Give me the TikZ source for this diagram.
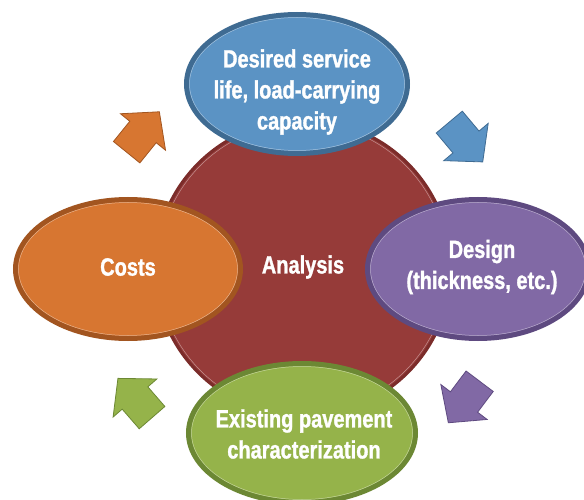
\documentclass[tikz,border=0pt]{standalone}
\usepackage{fontspec}
\setsansfont{Liberation Sans}[FakeStretch=0.8, BoldFeatures={FakeBold=1.2}]
\definecolor{pvred}{HTML}{963B39}
\definecolor{pvreddk}{HTML}{7B2C2A}
\definecolor{pvblue}{HTML}{5B93C4}
\definecolor{pvbluedk}{HTML}{3F6B92}
\definecolor{pvpurple}{HTML}{8169A5}
\definecolor{pvpurpledk}{HTML}{5E4A80}
\definecolor{pvorange}{HTML}{D77631}
\definecolor{pvorangedk}{HTML}{A25520}
\definecolor{pvgreen}{HTML}{95B34A}
\definecolor{pvgreendk}{HTML}{6C8834}
\tikzset{
  pv text/.style={font=\sffamily\bfseries\fontsize{25}{31}\selectfont, text=white, align=center},
  pv ring/.style={line width=5pt},
  pv gloss/.style={draw=white, draw opacity=.45, line width=.5pt},
  pv arrow/.style={line width=.8pt, line join=miter}
}

\begin{document}
\begin{tikzpicture}[x=1pt, y=1pt]
  \useasboundingbox (0,0) rectangle (584,499);
  \draw[fill=pvred, draw=pvreddk, line width=3pt] (303,231) circle (148);
  \draw[pv gloss] (303,231) circle (145);
  \foreach \x/\y/\a/\c in {143/367/51/pvorange,466/357/-50/pvblue,464/97/-127/pvpurple,135/101/131/pvgreen} {
    \draw[pv arrow, fill=\c, draw=\c dk, shift={(\x,\y)}, rotate=\a]
      (26,0) -- (0,29) -- (0,17) -- (-26,17) -- (-26,-17) -- (0,-17) -- (0,-29) -- cycle;
  }
  \foreach \x/\y/\rx/\c in {128/230/115/pvorange,478/230/113/pvpurple,297/415/113/pvblue,302/66/116/pvgreen} {
    \draw[pv ring, fill=\c, draw=\c dk] (\x,\y) ellipse [x radius=\rx-2.5, y radius=69.5];
    \draw[pv gloss] (\x,\y) ellipse [x radius=\rx-5.5, y radius=66.5];
  }
  \node[pv text] (analysis) at (303,232) {Analysis};
  \node[pv text] (life) at (297,407) {Desired service\\life, load-carrying\\capacity};
  \node[pv text] (design) at (482,232) {Design\\(thickness, etc.)};
  \node[pv text] (costs) at (128,232) {Costs};
  \node[pv text] (existing) at (304,65) {Existing pavement\\characterization};
\end{tikzpicture}
\end{document}
